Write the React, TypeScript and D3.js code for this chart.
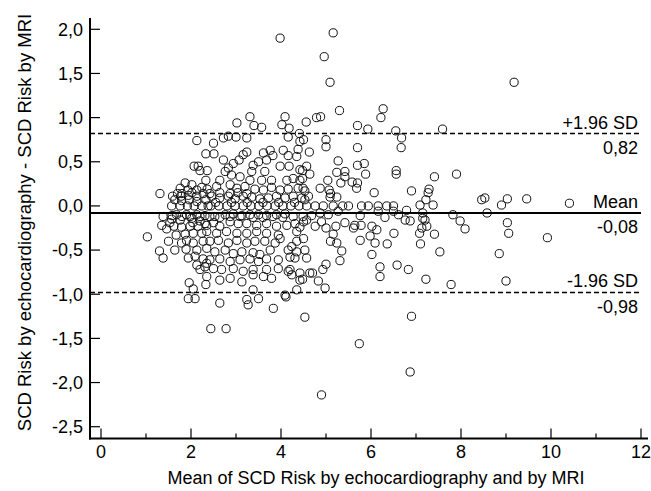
import React from "react";
import * as d3 from "d3";

// Bland-Altman data: mean of the two methods (x) and difference (y)
const meanValues: number[] = [
  // far right / upper
  5.16, 4.96, 5.09, 9.18, 5.30, 6.27, 6.22, 4.79, 4.88, 4.56, 5.70, 5.93, 6.55, 7.59, 6.68, 6.67, 4.50, 5.00, 5.00, 4.63,
  5.70, 5.27, 5.70, 5.85, 5.88, 6.56, 6.56, 7.41, 7.90, 4.48, 4.64, 4.48, 5.24, 5.42, 5.42, 5.33, 5.04, 5.58, 5.70, 5.68,
  4.87, 5.07, 5.10, 5.09, 4.53, 4.53, 6.07, 6.90, 7.29, 7.27, 7.22, 7.38, 8.46, 8.53, 9.03, 8.90, 9.46, 10.41,
  4.57, 4.76, 4.94, 5.16, 5.37, 5.50, 5.79, 5.94, 6.16, 6.35, 6.50, 6.79, 7.09,
  // right, below mean
  4.68, 4.87, 5.05, 5.27, 5.76, 6.16, 6.31, 6.50, 6.61, 6.76, 6.87, 7.15, 7.15, 7.20, 7.82, 7.98, 8.09, 8.58,
  4.50, 4.57, 4.76, 4.90, 5.00, 5.22, 5.42, 5.61, 5.64, 5.78, 6.02, 6.13, 4.50, 5.16, 5.10, 5.24, 5.76, 5.98, 6.09, 6.36,
  6.51, 7.08, 7.13, 7.24, 7.41, 7.10, 7.53, 9.03, 9.06, 9.92, 8.85,
  4.53, 4.57, 5.35, 5.31, 5.00, 4.93, 4.64, 4.70, 4.48, 4.83, 4.98, 6.02, 6.20, 6.20, 6.58, 6.83, 7.22, 7.78, 9.00,
  4.53, 6.90, 5.74, 6.87, 4.90,
  3.98, 2.44, 2.78,
  // left cluster, upper
  2.13, 2.33, 2.07, 2.16, 2.20, 2.36, 2.33, 1.87, 2.02, 1.76, 1.70, 1.93, 2.13, 2.24, 2.36, 1.31, 1.59, 1.78, 1.94, 2.13,
  2.27, 1.64, 1.79, 1.96, 2.13, 2.33, 1.57, 1.76, 1.92, 2.07, 2.24, 2.38,
  // left cluster, lower
  1.68, 1.90, 2.13, 2.31, 1.57, 1.76, 2.02, 2.20, 1.35, 1.46, 1.62, 1.79, 1.98, 2.16, 2.35, 1.03, 1.67, 1.87, 2.05, 2.24,
  1.50, 1.79, 1.90, 2.05, 2.27, 1.30, 1.64, 1.38, 1.89, 2.13, 2.35, 1.94, 2.09, 2.27, 2.13, 2.35, 2.20, 2.35, 2.33, 1.96,
  2.05, 1.94, 2.09,
  // middle cluster, upper
  3.31, 3.02, 3.40, 3.57, 4.09, 4.02, 4.18, 2.72, 2.83, 3.00, 3.24, 2.50, 4.16, 4.41, 4.42, 4.38, 2.51, 3.24, 3.16, 3.07,
  3.61, 3.76, 3.82, 3.68, 4.05, 4.16, 4.35, 2.72, 2.94, 2.83, 2.90, 2.76, 2.64, 3.38, 3.50, 3.64, 3.35, 3.98, 4.18, 4.42,
  4.57, 3.09, 3.31, 3.57, 3.79, 4.13, 4.27, 4.42,
  2.87, 2.57, 3.02, 3.20, 3.42, 3.61, 3.79, 3.98, 4.16, 4.38,
  2.46, 2.64, 2.83, 2.98, 3.16, 3.35, 3.53, 3.72, 3.90, 4.09, 4.27, 4.46, 4.61,
  2.44, 2.62, 2.80, 2.98, 3.16, 3.33, 3.51, 3.69, 3.87, 4.04, 4.22, 4.40,
  // middle cluster, lower
  2.53, 2.76, 2.94, 3.13, 3.31, 3.50, 3.68, 3.90, 4.09, 4.31, 4.42,
  2.50, 2.64, 2.87, 3.05, 3.24, 3.46, 3.68, 3.90, 4.13,
  2.35, 2.57, 2.79, 3.02, 3.24, 3.46, 3.68, 3.94, 4.35,
  2.42, 2.61, 2.83, 3.02, 3.24, 3.42, 3.64, 3.87, 3.98, 4.35, 4.24,
  2.53, 2.76, 2.94, 3.13, 3.38, 3.53, 3.76, 4.16, 4.35,
  2.42, 2.64, 2.87, 3.09, 3.31, 3.50, 3.68, 3.94, 4.20, 4.31,
  2.31, 2.50, 2.68, 2.94, 3.16, 3.38, 3.68, 3.94, 4.20, 4.42,
  2.64, 2.87, 3.13, 3.38, 3.61, 3.79, 4.16, 4.24, 4.42,
  2.64, 3.24, 3.27, 3.50, 3.83, 4.09, 4.11, 3.38, 4.35,
  // dense band near the mean line
  1.80, 2.02, 2.42, 2.64, 2.87, 3.04, 3.24, 5.24, 4.49,
  1.38, 1.58, 1.80, 1.98, 2.20, 2.42, 2.64, 2.87, 3.09, 3.38, 3.60, 3.82, 4.04, 4.27, 4.49,
  1.53, 2.04, 2.31,
  2.55, 2.90, 3.25, 3.60, 3.95, 4.30,
];

const diffValues: number[] = [
  1.96, 1.69, 1.40, 1.40, 1.08, 1.10, 1.00, 1.00, 1.01, 0.95, 0.91, 0.87, 0.85, 0.87, 0.77, 0.66, 0.75, 0.75, 0.67, 0.61,
  0.66, 0.51, 0.46, 0.48, 0.36, 0.40, 0.36, 0.33, 0.36, 0.40, 0.36, 0.31, 0.38, 0.39, 0.33, 0.26, 0.29, 0.27, 0.26, 0.20,
  0.20, 0.18, 0.14, 0.10, 0.17, 0.07, 0.15, 0.17, 0.19, 0.15, 0.07, 0.01, 0.07, 0.09, 0.08, 0.01, 0.08, 0.03,
  0.00, 0.00, 0.00, 0.00, 0.00, 0.00, 0.00, 0.00, 0.00, 0.00, 0.00, -0.05, 0.01,
  -0.11, -0.08, -0.10, -0.06, -0.11, -0.06, -0.13, -0.06, -0.10, -0.16, -0.17, -0.08, -0.14, -0.16, -0.10, -0.17, -0.26, -0.08,
  -0.18, -0.16, -0.23, -0.18, -0.25, -0.23, -0.19, -0.25, -0.22, -0.22, -0.23, -0.27, -0.37, -0.32, -0.40, -0.42, -0.39, -0.34, -0.42, -0.43,
  -0.31, -0.31, -0.25, -0.23, -0.32, -0.43, -0.52, -0.19, -0.31, -0.36, -0.54,
  -0.50, -0.59, -0.51, -0.62, -0.66, -0.72, -0.76, -0.76, -0.83, -0.85, -0.93, -0.55, -0.69, -0.80, -0.67, -0.72, -0.83, -0.89, -0.85,
  -1.26, -1.25, -1.56, -1.88, -2.14,
  1.90, -1.39, -1.39,
  0.74, 0.59, 0.45, 0.45, 0.40, 0.40, 0.29, 0.26, 0.24, 0.20, 0.14, 0.18, 0.18, 0.21, 0.19, 0.14, 0.11, 0.11, 0.12, 0.11,
  0.14, 0.07, 0.06, 0.07, 0.05, 0.07, 0.00, 0.00, 0.00, 0.00, 0.00, 0.00,
  -0.10, -0.10, -0.10, -0.11, -0.15, -0.16, -0.14, -0.17, -0.22, -0.26, -0.23, -0.24, -0.23, -0.23, -0.22, -0.35, -0.33, -0.32, -0.31, -0.31,
  -0.40, -0.42, -0.39, -0.42, -0.40, -0.51, -0.50, -0.59, -0.49, -0.50, -0.48, -0.59, -0.57, -0.60, -0.67, -0.65, -0.72, -0.80, -0.89, -0.87,
  -0.94, -1.05, -1.05,
  1.01, 0.94, 0.91, 0.89, 1.01, 0.92, 0.88, 0.77, 0.79, 0.78, 0.77, 0.71, 0.78, 0.82, 0.73, 0.64, 0.59, 0.61, 0.58, 0.52,
  0.60, 0.63, 0.57, 0.52, 0.63, 0.57, 0.56, 0.52, 0.48, 0.43, 0.35, 0.39, 0.29, 0.46, 0.50, 0.39, 0.39, 0.45, 0.45, 0.41,
  0.45, 0.33, 0.29, 0.29, 0.29, 0.29, 0.31, 0.29,
  0.24, 0.22, 0.20, 0.22, 0.19, 0.18, 0.21, 0.18, 0.19, 0.20,
  0.11, 0.09, 0.11, 0.08, 0.11, 0.10, 0.08, 0.09, 0.11, 0.09, 0.11, 0.09, 0.11,
  0.00, 0.00, 0.00, 0.00, 0.00, 0.00, 0.00, 0.00, 0.00, 0.00, 0.00, 0.00,
  -0.12, -0.10, -0.09, -0.11, -0.10, -0.10, -0.11, -0.10, -0.09, -0.20, -0.24,
  -0.19, -0.23, -0.18, -0.20, -0.20, -0.22, -0.20, -0.23, -0.22,
  -0.29, -0.31, -0.29, -0.31, -0.31, -0.29, -0.31, -0.33, -0.29,
  -0.40, -0.39, -0.42, -0.39, -0.42, -0.40, -0.40, -0.42, -0.37, -0.40, -0.46,
  -0.52, -0.50, -0.54, -0.52, -0.53, -0.55, -0.50, -0.50, -0.52,
  -0.61, -0.60, -0.63, -0.61, -0.60, -0.63, -0.60, -0.61, -0.58, -0.59,
  -0.69, -0.71, -0.72, -0.71, -0.74, -0.72, -0.72, -0.71, -0.72, -0.76,
  -0.84, -0.82, -0.86, -0.78, -0.80, -0.82, -0.74, -0.78, -0.84,
  -1.10, -1.06, -1.12, -1.05, -1.16, -1.01, -1.03, -0.95, -0.95,
  0.14, 0.15, 0.14, 0.15, 0.14, 0.15, 0.14, 0.10, 0.20,
  -0.12, -0.11, -0.12, -0.12, -0.12, -0.12, -0.13, -0.12, -0.12, -0.13, -0.13, -0.12, -0.13, -0.12, -0.12,
  -0.19, -0.19, -0.20,
  0.04, 0.04, 0.04, 0.04, 0.04, 0.04,
];

const xTicks: number[] = [0, 1, 2, 3, 4, 5, 6, 7, 8, 9, 10, 11, 12];
const xTickLabels: string[] = ["0", "", "2", "", "4", "", "6", "", "8", "", "10", "", "12"];
const yTicks: number[] = [2.0, 1.5, 1.0, 0.5, 0.0, -0.5, -1.0, -1.5, -2.0, -2.5];
const yTickLabels: string[] = ["2,0", "1,5", "1,0", "0,5", "0,0", "-0,5", "-1,0", "-1,5", "-2,0", "-2,5"];

const upperLimit = 0.82;
const meanDiff = -0.08;
const lowerLimit = -0.98;
const refLabels = {
  upper: ["+1.96 SD", "0,82"],
  mean: ["Mean", "-0,08"],
  lower: ["-1.96 SD", "-0,98"],
};

const xTitle = "Mean of SCD Risk by echocardiography and by MRI";
const yTitle = "SCD Risk by echocardiography - SCD Risk by MRI";

export default function App() {
  const W = 651;
  const H = 491;
  const axisX = 90;
  const axisY = 438.5;
  const x = d3.scaleLinear().domain([0, 12]).range([101, 641]);
  const y = d3.scaleLinear().domain([-2.5, 2.0]).range([426.7, 29.3]);
  const font = "'Liberation Sans', Arial, Helvetica, sans-serif";
  const fs = 18;

  const points = meanValues.map((m, i) => ({ m, d: diffValues[i] }));

  const refLine = (v: number, dashed: boolean, labels: string[], key: string) => (
    <g key={key}>
      <line
        x1={axisX}
        x2={x(12)}
        y1={y(v)}
        y2={y(v)}
        stroke="#000"
        strokeWidth={dashed ? 1.6 : 2}
        strokeDasharray={dashed ? "5,3" : undefined}
      />
      <text x={638} y={y(v) - 5} textAnchor="end" fontSize={fs} fontFamily={font} fill="#000">
        {labels[0]}
      </text>
      <text x={638} y={y(v) + 20.5} textAnchor="end" fontSize={fs} fontFamily={font} fill="#000">
        {labels[1]}
      </text>
    </g>
  );

  return (
    <svg
      width={W}
      height={H}
      viewBox={`0 0 ${W} ${H}`}
      style={{ position: "absolute", left: 0, top: 0, background: "#fff" }}
    >
      <rect x={0} y={0} width={W} height={H} fill="#fff" />
      {/* points */}
      <g fill="none" stroke="#111" strokeWidth={1}>
        {points.map((p, i) => (
          <circle key={i} cx={x(p.m)} cy={y(p.d)} r={4.1} />
        ))}
      </g>
      {/* reference lines */}
      {refLine(upperLimit, true, refLabels.upper, "u")}
      {refLine(meanDiff, false, refLabels.mean, "m")}
      {refLine(lowerLimit, true, refLabels.lower, "l")}
      {/* axes */}
      <line x1={axisX} x2={axisX} y1={18} y2={axisY + 1} stroke="#000" strokeWidth={2} />
      <line x1={axisX - 1} x2={648} y1={axisY} y2={axisY} stroke="#000" strokeWidth={2} />
      {yTicks.map((t, i) => (
        <g key={`yt${i}`}>
          <line x1={axisX} x2={axisX + 10} y1={y(t)} y2={y(t)} stroke="#000" strokeWidth={1.2} />
          <text
            x={83}
            y={y(t) + 6.4}
            textAnchor="end"
            fontSize={fs}
            fontFamily={font}
            fill="#000"
          >
            {yTickLabels[i]}
          </text>
        </g>
      ))}
      {xTicks.map((t, i) => (
        <g key={`xt${i}`}>
          <line
            x1={x(t)}
            x2={x(t)}
            y1={axisY}
            y2={axisY - (i % 2 === 0 ? 10 : 5)}
            stroke="#000"
            strokeWidth={1.2}
          />
          {xTickLabels[i] && (
            <text x={x(t)} y={458} textAnchor="middle" fontSize={fs} fontFamily={font} fill="#000">
              {xTickLabels[i]}
            </text>
          )}
        </g>
      ))}
      <text x={376} y={484} textAnchor="middle" fontSize={fs} fontFamily={font} fill="#000">
        {xTitle}
      </text>
      <text
        transform={`translate(31,222.5) rotate(-90)`}
        textAnchor="middle"
        fontSize={18.5}
        fontFamily={font}
        fill="#000"
      >
        {yTitle}
      </text>
    </svg>
  );
}
